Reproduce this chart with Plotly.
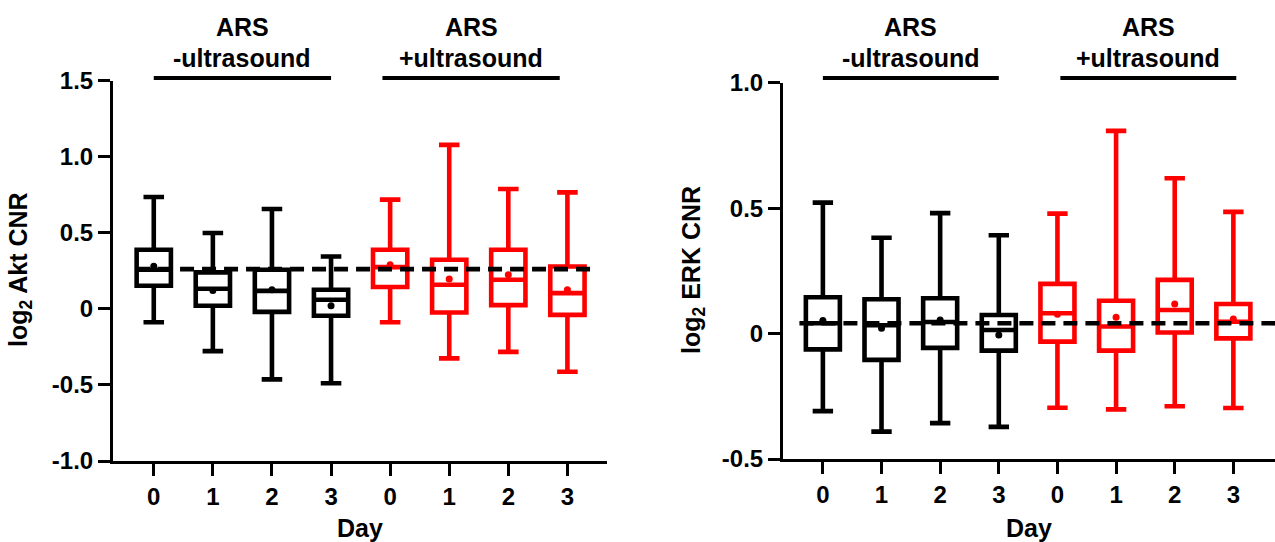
import plotly.graph_objects as go

# ---------------- data ----------------
day_labels = ["0", "1", "2", "3", "0", "1", "2", "3"]
positions = [0, 1, 2, 3, 4, 5, 6, 7]

# Akt panel (first 4 = ARS -ultrasound, last 4 = ARS +ultrasound)
akt_min = [-0.088, -0.278, -0.464, -0.489, -0.088, -0.326, -0.283, -0.414]
akt_q1 = [0.151, 0.020, -0.020, -0.046, 0.143, -0.024, 0.024, -0.040]
akt_median = [0.257, 0.132, 0.118, 0.059, 0.274, 0.158, 0.191, 0.103]
akt_q3 = [0.388, 0.239, 0.257, 0.125, 0.388, 0.322, 0.388, 0.278]
akt_max = [0.735, 0.498, 0.656, 0.344, 0.717, 1.077, 0.787, 0.765]
akt_mean = [0.280, 0.120, 0.125, 0.020, 0.290, 0.195, 0.224, 0.125]
akt_ref = 0.261

# ERK panel
erk_min = [-0.309, -0.391, -0.357, -0.372, -0.296, -0.302, -0.290, -0.297]
erk_q1 = [-0.063, -0.105, -0.057, -0.068, -0.032, -0.068, 0.004, -0.019]
erk_median = [0.041, 0.033, 0.046, 0.014, 0.081, 0.028, 0.094, 0.047]
erk_q3 = [0.145, 0.137, 0.141, 0.074, 0.198, 0.131, 0.214, 0.118]
erk_max = [0.522, 0.382, 0.480, 0.392, 0.478, 0.808, 0.619, 0.485]
erk_mean = [0.052, 0.021, 0.054, -0.006, 0.077, 0.065, 0.118, 0.058]
erk_ref = 0.041

group_colors = ["#000000", "#ff0000"]
group_top = "ARS"
group_names = ["-ultrasound", "+ultrasound"]

FONT = "Liberation Sans, Arial, sans-serif"

fig = go.Figure()


def add_panel(xa, ya, mins, q1, med, q3, maxs, means, ref, ref_x):
    for g in range(2):
        sl = slice(4 * g, 4 * g + 4)
        col = group_colors[g]
        fig.add_trace(go.Box(
            x=positions[sl], lowerfence=mins[sl], q1=q1[sl], median=med[sl],
            q3=q3[sl], upperfence=maxs[sl], boxpoints=False,
            width=0.58, whiskerwidth=0.6,
            line=dict(color=col, width=4.6), fillcolor="rgba(0,0,0,0)",
            xaxis=xa, yaxis=ya, showlegend=False, hoverinfo="skip"))
    for g in range(2):
        sl = slice(4 * g, 4 * g + 4)
        fig.add_trace(go.Scatter(
            x=positions[sl], y=means[sl], mode="markers",
            marker=dict(color=group_colors[g], size=7),
            xaxis=xa, yaxis=ya, showlegend=False, hoverinfo="skip"))
    fig.add_trace(go.Scatter(
        x=ref_x, y=[ref, ref], mode="lines",
        line=dict(color="black", width=4.6, dash="14px,8px"),
        xaxis=xa, yaxis=ya, showlegend=False, hoverinfo="skip"))


add_panel("x", "y", akt_min, akt_q1, akt_median, akt_q3, akt_max, akt_mean,
          akt_ref, [-0.3, 7.4])
add_panel("x2", "y2", erk_min, erk_q1, erk_median, erk_q3, erk_max, erk_mean,
          erk_ref, [-0.4, 7.71])

axis_common = dict(showline=True, linewidth=3, linecolor="black",
                   ticks="outside", ticklen=12, tickwidth=3, tickcolor="black",
                   showgrid=False, zeroline=False, automargin=False,
                   tickfont=dict(family=FONT, size=24, color="black", weight="bold"))

W, H = 1275, 542
fig.update_layout(
    template="none",
    width=W, height=H, margin=dict(l=0, r=0, t=0, b=0, pad=0, autoexpand=False),
    paper_bgcolor="white", plot_bgcolor="white",
    boxmode="overlay", showlegend=False,
    xaxis=dict(domain=[113 / W, 607 / W], range=[-0.69, 7.67],
               tickvals=positions, ticktext=day_labels, anchor="y", **axis_common),
    yaxis=dict(domain=[(H - 461) / H, (H - 80.5) / H], range=[-1.0, 1.5],
               tickvals=[-1.0, -0.5, 0, 0.5, 1.0, 1.5],
               ticktext=["-1.0", "-0.5", "0", "0.5", "1.0", "1.5"],
               anchor="x", **axis_common),
    xaxis2=dict(domain=[783 / W, 1.0], range=[-0.68, 7.71],
                tickvals=positions, ticktext=day_labels, anchor="y2", **axis_common),
    yaxis2=dict(domain=[(H - 459) / H, (H - 82.7) / H], range=[-0.5, 1.0],
                tickvals=[-0.5, 0, 0.5, 1.0],
                ticktext=["-0.5", "0", "0.5", "1.0"],
                anchor="x2", **axis_common),
)

tfont = dict(family=FONT, size=25, color="black", weight="bold")
annotations = []
shapes = []
# group labels and bars
group_spans = {"x": [(0, 3), (3.87, 6.87)], "x2": [(0, 3), (4.05, 7.05)]}
for xa, spans in group_spans.items():
    for g, (a, b) in enumerate(spans):
        c = (a + b) / 2
        annotations.append(dict(x=c, xref=xa, y=(H - 27) / H, yref="paper",
                                text=group_top, showarrow=False, font=tfont,
                                xanchor="center", yanchor="middle"))
        annotations.append(dict(x=c, xref=xa, y=(H - 58) / H, yref="paper",
                                text=group_names[g], showarrow=False, font=tfont,
                                xanchor="center", yanchor="middle"))
        shapes.append(dict(type="line", xref=xa, yref="paper", x0=a, x1=b,
                           y0=(H - 78) / H, y1=(H - 78) / H,
                           line=dict(color="black", width=4)))

# axis titles
annotations.append(dict(x=20 / W, y=(H - 270) / H, xref="paper", yref="paper",
                        text="log<sub>2</sub> Akt CNR", textangle=-90,
                        showarrow=False, font=tfont, xanchor="center", yanchor="middle"))
annotations.append(dict(x=693 / W, y=(H - 270) / H, xref="paper", yref="paper",
                        text="log<sub>2</sub> ERK CNR", textangle=-90,
                        showarrow=False, font=tfont, xanchor="center", yanchor="middle"))
annotations.append(dict(x=(113 + 607) / 2 / W, y=(H - 528) / H, xref="paper", yref="paper",
                        text="Day", showarrow=False, font=tfont,
                        xanchor="center", yanchor="middle"))
annotations.append(dict(x=(783 + 1275) / 2 / W, y=(H - 528) / H, xref="paper", yref="paper",
                        text="Day", showarrow=False, font=tfont,
                        xanchor="center", yanchor="middle"))

fig.update_layout(annotations=annotations, shapes=shapes)

fig.write_html("out.html")
